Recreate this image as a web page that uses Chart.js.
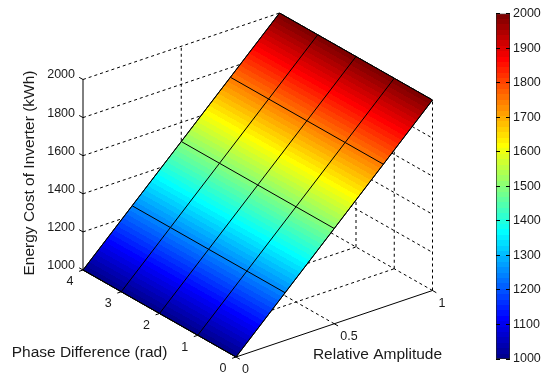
<!DOCTYPE html>
<html>
<head>
<meta charset="utf-8">
<style>
    html, body { margin: 0; padding: 0; background: #fff; overflow: hidden; }
    canvas { position: absolute; top: 0; }
    #surface-chart { left: 0; }
    #colorbar-chart { left: 490px; }
</style>
<script src="https://cdn.jsdelivr.net/npm/chart.js@4/dist/chart.umd.min.js"></script>
</head>
<body>
<canvas id="surface-chart" width="490" height="379"></canvas>
<canvas id="colorbar-chart" width="57" height="379"></canvas>
<script>
// Surface grid
const amplitudes = [0, 0.25, 0.5, 0.75, 1];
const phases = [0, 1, 2, 3, 4];
const energyAtPhase0 = [1000, 1250, 1500, 1750, 2000];
const energyAtPhase1 = [1000, 1250, 1500, 1750, 2000];
const energyAtPhase2 = [1000, 1250, 1500, 1750, 2000];
const energyAtPhase3 = [1000, 1250, 1500, 1750, 2000];
const energyAtPhase4 = [1000, 1250, 1500, 1750, 2000];
const energyGrid = [energyAtPhase0, energyAtPhase1, energyAtPhase2, energyAtPhase3, energyAtPhase4];

// Tick labels
const amplitudeTicks = [0, 0.5, 1];
const phaseTicks = [0, 1, 2, 3, 4];
const energyTicks = [1000, 1200, 1400, 1600, 1800, 2000];
const energyMin = 1000;
const energyMax = 2000;
const colorbarStep = 100;

// Titles
const amplitudeTitle = 'Relative Amplitude';
const phaseTitle = 'Phase Difference (rad)';
const energyTitle = 'Energy Cost of Inverter (kWh)';

const FONT = '"Liberation Sans", Arial, sans-serif';
const TEXT_COLOR = '#1a1a1a';
const COLOR_LEVELS = 64;

// Orthographic view of the box, in canvas units
const view = {
    origin: { x: 236, y: 357 },
    amplitude: { x: 196.5, y: -66.5 },  // amplitude 0 -> 1
    phase: { x: -153, y: -87 },         // phase 0 -> 4
    energy: { x: 0, y: -190.5 }         // 1000 -> 2000 kWh
};

function project(amp, phase, energy) {
    const p = phase / 4;
    const e = (energy - energyMin) / (energyMax - energyMin);
    return {
        x: view.origin.x + amp * view.amplitude.x + p * view.phase.x + e * view.energy.x,
        y: view.origin.y + amp * view.amplitude.y + p * view.phase.y + e * view.energy.y
    };
}

// MATLAB jet colormap, one colour per level
function jetColor(level) {
    const t = (level + 1) / COLOR_LEVELS;
    const channel = c => Math.round(255 * Math.min(Math.max(1.5 - Math.abs(4 * t - c), 0), 1));
    return `rgb(${channel(3)}, ${channel(2)}, ${channel(1)})`;
}

// Gradient with hard stops so the colour bands stay visible
function bandedGradient(ctx, x0, y0, x1, y1) {
    const gradient = ctx.createLinearGradient(x0, y0, x1, y1);
    for (let i = 0; i < COLOR_LEVELS; i++) {
        gradient.addColorStop(i / COLOR_LEVELS, jetColor(i));
        gradient.addColorStop((i + 1) / COLOR_LEVELS, jetColor(i));
    }
    return gradient;
}

// Surface fill: bands run along the phase direction
function surfaceFill(context) {
    const chart = context.chart;
    if (!chart.chartArea) return 'rgba(0, 0, 0, 0)';
    const sx = chart.scales.x;
    const sy = chart.scales.y;
    const low = project(amplitudes[0], phases[0], energyMin);
    const high = project(amplitudes[amplitudes.length - 1], phases[0], energyMax);
    const x0 = sx.getPixelForValue(low.x);
    const y0 = sy.getPixelForValue(low.y);
    const dx = sx.getPixelForValue(high.x) - x0;
    const dy = sy.getPixelForValue(high.y) - y0;
    // keep only the part of the rise that is perpendicular to the bands
    const along = view.phase;
    const k = (dx * along.x + dy * along.y) / (along.x * along.x + along.y * along.y);
    return bandedGradient(chart.ctx, x0, y0, x0 + dx - k * along.x, y0 + dy - k * along.y);
}

function lineDataset(points, color, dash, order, width = 1) {
    return {
        data: points,
        showLine: true,
        borderColor: color,
        borderWidth: width,
        borderDash: dash,
        pointRadius: 0,
        tension: 0,
        fill: false,
        order: order
    };
}

const DASH = [3, 3];
const datasets = [];
const aMin = amplitudes[0];
const aMax = amplitudes[amplitudes.length - 1];
const pMin = phases[0];
const pMax = phases[phases.length - 1];

// Back walls: one line per tick, drawn once so the dashes do not fill each other in
energyTicks.slice(1).forEach(e => {
    datasets.push(lineDataset([project(aMin, pMax, e), project(aMax, pMax, e), project(aMax, pMin, e)], '#000', DASH, 5));
});
amplitudeTicks.slice(1).forEach(a => {
    datasets.push(lineDataset([project(a, pMax, energyMin), project(a, pMax, energyMax)], '#000', DASH, 5));
});
phaseTicks.slice(0, -1).forEach(p => {
    datasets.push(lineDataset([project(aMax, p, energyMin), project(aMax, p, energyMax)], '#000', DASH, 5));
});

// Floor
amplitudeTicks.slice(1).forEach(a => {
    datasets.push(lineDataset([project(a, pMin, energyMin), project(a, pMax, energyMin)], '#000', DASH, 5));
});
phaseTicks.slice(1).forEach(p => {
    datasets.push(lineDataset([project(aMin, p, energyMin), project(aMax, p, energyMin)], '#000', DASH, 5));
});

// Surface outline and fill
const outline = [];
phases.forEach((p, i) => outline.push(project(aMin, p, energyGrid[i][0])));
amplitudes.forEach((a, j) => outline.push(project(a, pMax, energyGrid[pMax][j])));
phases.slice().reverse().forEach((p, i) => outline.push(project(aMax, p, energyGrid[phases.length - 1 - i][amplitudes.length - 1])));
amplitudes.slice().reverse().forEach((a, j) => outline.push(project(a, pMin, energyGrid[0][amplitudes.length - 1 - j])));
datasets.push(Object.assign(lineDataset(outline, '#000', [], 3), {
    fill: 'shape',
    backgroundColor: surfaceFill
}));

// Surface mesh lines
amplitudes.forEach((a, j) => {
    datasets.push(lineDataset(phases.map((p, i) => project(a, p, energyGrid[i][j])), '#000', [], 2));
});
phases.forEach((p, i) => {
    datasets.push(lineDataset(amplitudes.map((a, j) => project(a, p, energyGrid[i][j])), '#000', [], 2));
});

// Axis lines
datasets.push(lineDataset([project(aMin, pMax, energyMin), project(aMin, pMax, energyMax)], '#000', [], 1));
datasets.push(lineDataset([project(aMin, pMax, energyMin), project(aMin, pMin, energyMin), project(aMax, pMin, energyMin)], '#000', [], 1));

// Tick marks
energyTicks.forEach(e => {
    datasets.push(lineDataset([project(aMin, pMax, e), project(aMin, pMax + 0.1, e)], '#000', [], 1));
});
phaseTicks.forEach(p => {
    datasets.push(lineDataset([project(aMin, p, energyMin), project(aMin - 0.02, p, energyMin)], '#000', [], 1));
});
amplitudeTicks.forEach(a => {
    datasets.push(lineDataset([project(a, pMin, energyMin), project(a, pMin - 0.1, energyMin)], '#000', [], 1));
});

// Tick labels and axis titles sit on the projected box
const boxLabels = {
    id: 'boxLabels',
    afterDatasetsDraw(chart) {
        const ctx = chart.ctx;
        const sx = chart.scales.x;
        const sy = chart.scales.y;
        const label = (text, pt, dx, dy, align) => {
            ctx.textAlign = align;
            ctx.fillText(text, sx.getPixelForValue(pt.x) + dx, sy.getPixelForValue(pt.y) + dy);
        };
        ctx.save();
        ctx.fillStyle = TEXT_COLOR;
        ctx.textBaseline = 'middle';
        ctx.font = `12.5px ${FONT}`;
        energyTicks.forEach(e => label(String(e), project(aMin, pMax, e), -8, -4.5, 'right'));
        phaseTicks.forEach(p => label(String(p), project(aMin, p, energyMin), -13, 12, 'center'));
        amplitudeTicks.forEach(a => label(String(a), project(a, pMin, energyMin), 6, 13, 'left'));

        ctx.font = `15.5px ${FONT}`;
        ctx.textAlign = 'center';
        ctx.fillText(amplitudeTitle, 377.5, 354.5);
        ctx.fillText(phaseTitle, 89.5, 352.5);
        ctx.translate(30, 173);
        ctx.rotate(-Math.PI / 2);
        ctx.fillText(energyTitle, 0, 0);
        ctx.restore();
    }
};

new Chart(document.getElementById('surface-chart').getContext('2d'), {
    type: 'scatter',
    data: { datasets: datasets },
    options: {
        responsive: false,
        animation: false,
        layout: { padding: 0 },
        events: [],
        plugins: { legend: { display: false }, tooltip: { enabled: false } },
        scales: {
            x: { display: false, min: 0, max: 490 },
            y: { display: false, min: 0, max: 379, reverse: true }
        }
    },
    plugins: [boxLabels]
});

// Colorbar
new Chart(document.getElementById('colorbar-chart').getContext('2d'), {
    type: 'bar',
    data: {
        labels: [''],
        datasets: [{
            data: [[energyMin, energyMax]],
            barPercentage: 1,
            categoryPercentage: 1,
            borderColor: '#222',
            borderWidth: 1,
            borderSkipped: false,
            backgroundColor: context => {
                const area = context.chart.chartArea;
                if (!area) return 'rgba(0, 0, 0, 0)';
                return bandedGradient(context.chart.ctx, 0, area.bottom, 0, area.top);
            }
        }]
    },
    options: {
        responsive: false,
        animation: false,
        events: [],
        layout: { padding: { left: 6, top: 13.5, bottom: 20 } },
        plugins: { legend: { display: false }, tooltip: { enabled: false } },
        scales: {
            x: { display: false },
            y: {
                position: 'right',
                min: energyMin,
                max: energyMax,
                afterFit: scale => { scale.width = 37; },
                ticks: {
                    stepSize: colorbarStep,
                    color: TEXT_COLOR,
                    padding: 3,
                    font: { family: FONT, size: 12.5 },
                    callback: value => String(value)
                },
                border: { display: false, dash: [4, 6] },
                grid: {
                    z: 1,
                    color: '#000',
                    drawTicks: false,
                    tickLength: 0
                }
            }
        }
    }
});
</script>
</body>
</html>
